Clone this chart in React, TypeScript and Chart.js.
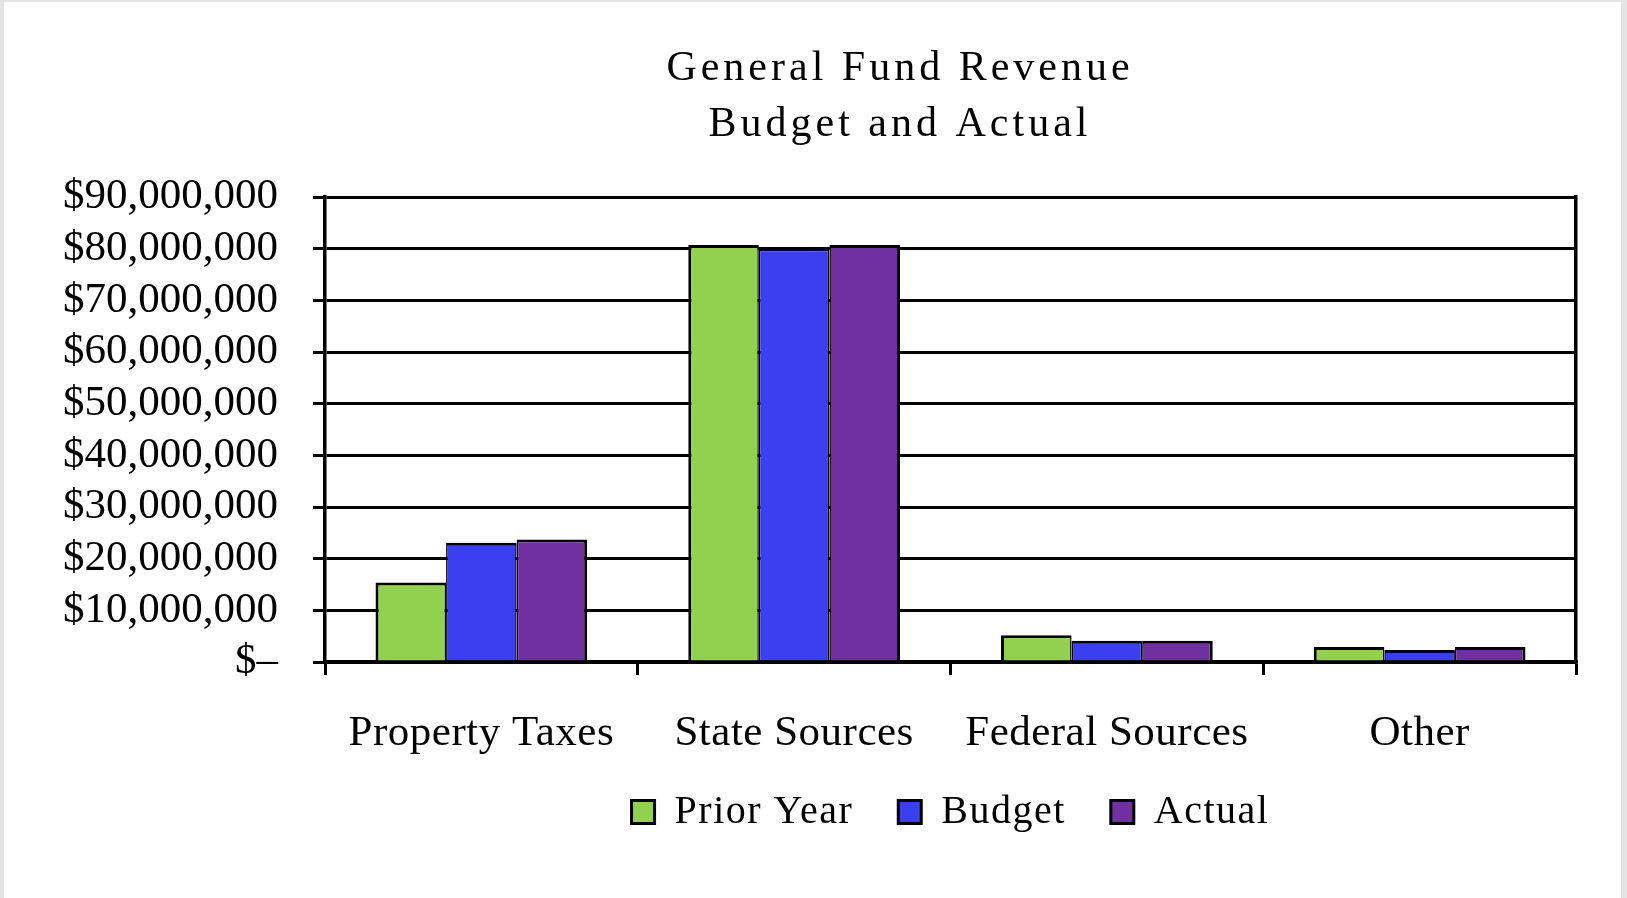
import React, { useEffect, useRef } from 'react';
import { Chart, registerables } from 'chart.js';

Chart.register(...registerables);

const categories = ['Property Taxes', 'State Sources', 'Federal Sources', 'Other'];
const priorYear = [15400000, 80700000, 5200000, 2900000];
const budget = [23100000, 80100000, 4100000, 2300000];
const actual = [23700000, 80700000, 4100000, 2900000];
const seriesNames = ['Prior Year', 'Budget', 'Actual'];
const seriesColors = ['#92D050', '#3A3FF0', '#7030A0'];
const yTickLabels = [
  '$–',
  '$10,000,000',
  '$20,000,000',
  '$30,000,000',
  '$40,000,000',
  '$50,000,000',
  '$60,000,000',
  '$70,000,000',
  '$80,000,000',
  '$90,000,000',
];
const titleLines = ['General Fund Revenue', 'Budget and Actual'];

const FONT = "'Liberation Serif', 'Times New Roman', serif";

function wrapSpacing(ctx: any, obj: any, method: string, spacing: string) {
  const orig = obj[method].bind(obj);
  obj[method] = (...a: any[]) => {
    const p = ctx.letterSpacing;
    ctx.letterSpacing = spacing;
    orig(...a);
    ctx.letterSpacing = p;
  };
}

const textSpacingPlugin = {
  id: 'textSpacing',
  beforeLayout(chart: any) {
    chart.ctx.letterSpacing = '1.5px';
  },
  afterLayout(chart: any) {
    chart.ctx.letterSpacing = '0px';
  },
  beforeDraw(chart: any) {
    const ctx = chart.ctx;
    const w = chart.width;
    const h = chart.height;
    ctx.save();
    ctx.letterSpacing = '0px';
    ctx.fillStyle = '#ffffff';
    ctx.fillRect(0, 0, w, h);
    ctx.fillStyle = '#e4e4e4';
    ctx.fillRect(0, 0, 4, h);
    ctx.fillRect(w - 6, 0, 6, h);
    ctx.fillRect(0, 0, w, 2);
    ctx.restore();
    ctx.letterSpacing = '1.5px';
    const t = chart.titleBlock;
    if (t && !t.__sp) {
      wrapSpacing(ctx, t, 'draw', '4px');
      t.__sp = true;
    }
    const y = chart.scales.y;
    if (y && !y.__sp) {
      y._computeLabelArea = () => undefined;
      wrapSpacing(ctx, y, 'drawLabels', '0px');
      y.__sp = true;
    }
    const x = chart.scales.x;
    if (x && !x.__sp) {
      x._computeLabelArea = () => undefined;
      wrapSpacing(ctx, x, 'drawLabels', '0.5px');
      x.__sp = true;
    }
  },
  afterDraw(chart: any) {
    chart.ctx.letterSpacing = '0px';
  },
};

export default function App() {
  const canvasRef = useRef<HTMLCanvasElement | null>(null);

  useEffect(() => {
    if (!canvasRef.current) return;
    const seriesData = [priorYear, budget, actual];
    const borderSides = [
      { top: 3, left: 3, right: 1.5, bottom: 0 },
      { top: 3, left: 1.5, right: 1.5, bottom: 0 },
      { top: 3, left: 1.5, right: 3, bottom: 0 },
    ];
    const chart = new Chart(canvasRef.current, {
      type: 'bar',
      data: {
        labels: categories,
        datasets: seriesNames.map((name, i) => ({
          label: name,
          data: seriesData[i],
          backgroundColor: seriesColors[i],
          borderColor: '#000000',
          borderWidth: borderSides[i] as any,
          categoryPercentage: 0.677,
          barPercentage: 1,
          yAxisID: 'y',
        })),
      },
      plugins: [textSpacingPlugin],
      options: {
        animation: false,
        responsive: true,
        maintainAspectRatio: false,
        events: [],
        layout: { padding: { left: 224, right: 51, top: 0, bottom: 56 } },
        plugins: {
          title: {
            display: true,
            text: titleLines,
            color: '#000000',
            font: { family: FONT, size: 42, weight: 'normal', lineHeight: 56 / 42 },
            padding: { top: 41, bottom: 44 },
          },
          legend: {
            display: true,
            position: 'bottom',
            fullSize: false,
            labels: {
              color: '#000000',
              font: { family: FONT, size: 40 },
              boxWidth: 23,
              boxHeight: 23,
              padding: 45,
              generateLabels: (c: any) =>
                Chart.defaults.plugins.legend.labels
                  .generateLabels(c)
                  .map((l: any) => ({ ...l, lineWidth: 3, strokeStyle: '#000000' })),
            },
          },
          tooltip: { enabled: false },
        },
        scales: {
          x: {
            afterFit(s: any) {
              s.height = 85;
            },
            grid: {
              display: true,
              drawOnChartArea: false,
              drawTicks: true,
              tickLength: 13,
              color: '#000000',
              lineWidth: 3,
              offset: true,
            },
            border: { display: true, color: '#000000', width: 3.5 },
            ticks: {
              color: '#000000',
              font: { family: FONT, size: 43, lineHeight: 1 },
              padding: 37,
              maxRotation: 0,
              autoSkip: false,
            },
          },
          y: {
            min: 0,
            max: 90000000,
            afterFit(s: any) {
              s.width = 101;
            },
            grid: { color: '#000000', lineWidth: 3, tickLength: 12, drawTicks: true },
            border: { display: true, color: '#000000', width: 3.5 },
            ticks: {
              stepSize: 10000000,
              autoSkip: false,
              color: '#000000',
              font: { family: FONT, size: 43 },
              padding: 35,
              callback: (_v: any, i: number) => yTickLabels[i],
            },
          },
          y2: {
            position: 'right',
            min: 0,
            max: 90000000,
            grid: { display: false },
            ticks: { display: false },
            border: { display: true, color: '#000000', width: 3.5 },
            afterFit(s: any) {
              s.width = 0;
            },
          },
        },
      } as any,
    });
    return () => chart.destroy();
  }, []);

  return (
    <div style={{ position: 'fixed', left: 0, top: 0, width: 1627, height: 898 }}>
      <canvas ref={canvasRef} style={{ display: 'block' }} />
    </div>
  );
}
